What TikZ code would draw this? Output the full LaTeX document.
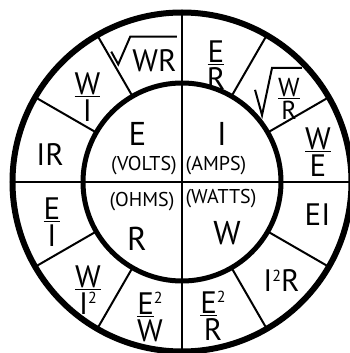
\documentclass[tikz,border=0pt]{standalone}
\usepackage{fontspec}
\setmainfont{PT Sans}
\newcommand{\twosup}{\raisebox{10.5pt}{\fontsize{16}{16}\selectfont 2}}
\newcommand{\frc}[2]{\shortstack{\underline{#1}\\#2}}
\begin{document}
\begin{tikzpicture}[x=1pt, y=1pt,
    every node/.style={inner sep=0pt, font=\fontsize{31}{28}\selectfont},
    qty/.style={font=\fontsize{33}{33}\selectfont},
    unit/.style={font=\fontsize{20}{20}\selectfont},
    small/.style={font=\fontsize{26}{24}\selectfont},
    rad/.style={line width=2pt, line join=miter}]
    \useasboundingbox (-182,-171) rectangle (168,182);
    % wheel
    \draw[line width=2pt] (90:169.5) -- (270:169.5);
    \draw[line width=2pt] (0:169.5) -- (180:169.5);
    \foreach \a in {30,60,120,150,210,240,300,330} {
        \draw[line width=2pt] (\a:99) -- (\a:169.5);
    }
    \draw[line width=6pt] (0,0) circle[radius=169.5pt];
    \draw[line width=5pt] (0,0) circle[radius=99pt];
    % inner quantities
    \node[qty] (q1) at (-44.5,48.5) {E};
    \node[unit] (u1) at (-38,16) {(VOLTS)};
    \node[qty] (q2) at (40,48.5) {I};
    \node[unit] (u2) at (34,16) {(AMPS)};
    \node[unit] (u3) at (-40,-20) {(OHMS)};
    \node[qty] (q3) at (-45,-56.5) {R};
    \node[unit] (u4) at (39,-16.5) {(WATTS)};
    \node[qty] (q4) at (45,-51.5) {W};
    % formulas in the outer ring
    \foreach \i/\x/\y/\txt in {
        1/-27.5/121/{WR},
        2/-94.5/84.5/{\frc{W}{I}},
        3/-132/27/{IR},
        4/-130/-40/{\frc{E}{I}},
        5/-94/-108/{\frc{W}{I\twosup}},
        6/-32/-135/{\shortstack{\underline{E}\twosup\\W}},
        7/31/-134/{\shortstack{\underline{E}\twosup\\R}},
        8/99.5/-99/{I\twosup R},
        9/135.5/-33/{EI},
        10/136/30/{\frc{W}{E}},
        12/34/117/{\frc{E}{R}}} {
        \node (f\i) at (\x,\y) {\txt};
    }
    \node[small] (f11) at (107,83) {\frc{W}{R}};
    % radical signs
    \draw[rad] ([shift={(-21,-2)}]f1.north west) -- ([shift={(-14,8)}]f1.south west)
        -- ([shift={(-2,13)}]f1.north west) -- ([shift={(0,13)}]f1.north east);
    \draw[rad] ([shift={(-23,-12)}]f11.north west) -- ([shift={(-16,5)}]f11.south west)
        -- ([shift={(-6,10)}]f11.north west) -- ([shift={(2,10)}]f11.north east);
\end{tikzpicture}
\end{document}
